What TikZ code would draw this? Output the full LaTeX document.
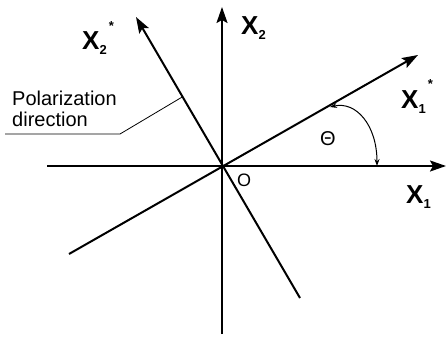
\documentclass[tikz,border=0pt]{standalone}
\usepackage{fontspec}
\setmainfont{Liberation Sans}
\usetikzlibrary{arrows.meta,calc}
\tikzset{
  axis/.style={line width=2pt, -{Stealth[length=16pt, width=11pt, inset=3pt]}},
  thinline/.style={line width=0.8pt},
  anglearc/.style={line width=1pt, {Stealth[length=7pt, width=5pt]}-{Stealth[length=7pt, width=5pt]}},
  axlabel/.style={font=\fontsize{26}{26}\selectfont\bfseries, inner sep=0pt, anchor=base west},
  textlabel/.style={font=\fontsize{20}{21}\selectfont, inner sep=0pt, align=left},
}
\newcommand{\axname}[1]{X\raisebox{-5pt}{\fontsize{13}{13}\selectfont #1}}
\newcommand{\axnamestar}[1]{X\raisebox{-5pt}{\fontsize{13}{13}\selectfont #1}\hspace{2pt}\raisebox{20pt}{\fontsize{13}{13}\selectfont *}}
\begin{document}
\begin{tikzpicture}[x=1pt, y=-1pt]
\useasboundingbox (0,0) rectangle (447,337);
% origin and axis ends
\coordinate (O) at (222,166);
\coordinate (x1a) at (47,166);
\coordinate (x1b) at (446,166);
\coordinate (x2a) at (222,334);
\coordinate (x2b) at (222,7);
\coordinate (s1a) at (69,254);
\coordinate (s1b) at (418,55);
\coordinate (s2a) at (300,298);
\coordinate (s2b) at (136,17);
% fixed axes
\draw[axis] (x1a) -- (x1b);
\draw[axis] (x2a) -- (x2b);
% rotated axes
\draw[axis] (s1a) -- (s1b);
\draw[axis] (s2a) -- (s2b);
% angle
\coordinate (th1) at (330,107);
\coordinate (th0) at (377,166);
\draw[anglearc] (th1) .. controls (356,101) and (377,125) .. (th0);
\node[font=\fontsize{20}{20}\selectfont, inner sep=0pt] (theta) at (328,139) {Θ};
% labels
\node[axlabel] (lx1) at (406,203) {\axname{1}};
\node[axlabel] (lx2) at (241,35) {\axname{2}};
\node[axlabel] (lx1s) at (401,108) {\axnamestar{1}};
\node[axlabel] (lx2s) at (82,50) {\axnamestar{2}};
\node[font=\fontsize{18}{18}\selectfont, inner sep=0pt] (lo) at (244,180) {O};
% polarization
\node[textlabel, anchor=north west] (pol) at (12,91) {Polarization\\direction};
\coordinate (lead0) at (5,134);
\coordinate (knee) at (120,134);
\coordinate (foot) at ($(O)!0.463!(s2b)$);
\draw[thinline] (lead0) -- (knee) -- (foot);
\end{tikzpicture}
\end{document}
